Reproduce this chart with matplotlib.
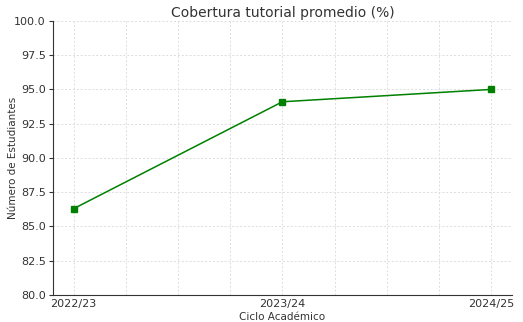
import numpy as np
import matplotlib.pyplot as plt
from matplotlib.ticker import MultipleLocator

# Datos
ciclos = ['2022/23', '2023/24', '2024/25']
cobertura = [86.3, 94.1, 95.0]

fig, ax = plt.subplots(figsize=(5.23, 3.22), dpi=100)
x = np.arange(len(ciclos))
ax.plot(x, cobertura, color='green', marker='s', markersize=4, linewidth=1.1)

ax.set_xticks(x)
ax.set_xticklabels(ciclos, fontsize=8, color='#333333')
ax.xaxis.set_minor_locator(MultipleLocator(0.25))
ax.tick_params(axis='x', which='both', length=0, pad=3)
ax.set_xlim(-0.1, 2.1)
ax.set_ylim(80, 100)
ax.yaxis.set_major_locator(MultipleLocator(2.5))
ax.yaxis.set_major_formatter(plt.FormatStrFormatter('%.1f'))
ax.tick_params(axis='y', labelsize=8, labelcolor='#333333', length=3, color='#333333', pad=2)

ax.grid(True, which='both', linestyle=(0, (2, 2)), color='#dddddd', linewidth=0.7)
for s in ['top', 'right']:
    ax.spines[s].set_visible(False)
for s in ['left', 'bottom']:
    ax.spines[s].set_color('#333333')

ax.set_title('Cobertura tutorial promedio (%)', fontsize=10, color='#333333', pad=3)
ax.set_xlabel('Ciclo Académico', fontsize=7.5, color='#333333', labelpad=2)
ax.set_ylabel('Número de Estudiantes', fontsize=7.5, color='#333333')
ax.yaxis.set_label_coords(-0.075, 0.5)

fig.subplots_adjust(left=0.101, right=0.979, top=0.935, bottom=0.084)
plt.savefig('out.png', dpi=100)
